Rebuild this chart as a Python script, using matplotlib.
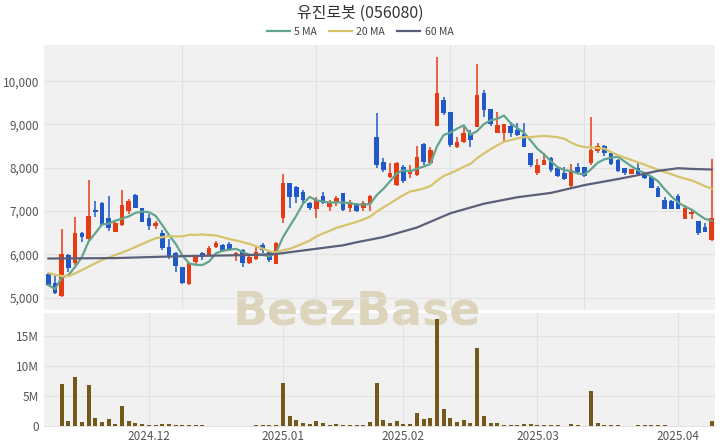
import numpy as np
import pandas as pd
import matplotlib
matplotlib.use("Agg")
import matplotlib.pyplot as plt
from matplotlib.patches import Rectangle
from matplotlib.lines import Line2D

plt.rcParams['font.family'] = ['Noto Sans CJK KR', 'DejaVu Sans']

title = "유진로봇 (056080)"
start_date = "2024-11-11"
end_date = "2025-04-08"
holidays = ["2024-12-25", "2024-12-31", "2025-01-01", "2025-01-27",
            "2025-01-28", "2025-01-29", "2025-01-30"]

opens = [5547, 5333, 5039, 5986, 5795, 6488, 6349, 7026, 7195, 6848,
         6525, 6680, 7010, 7372, 7065, 6833, 6663, 6502, 6178, 6025,
         5700, 5316, 5832, 6039, 5986, 6164, 6217, 6240, 5963, 6102,
         5795, 5887, 6217, 6063, 5778, 6833, 7641, 7564, 7449, 7195,
         7040, 7357, 7102, 7195, 7412, 7065, 7165, 7065, 7165, 8705,
         8127, 7795, 7603, 8025, 7857, 7834, 8550, 8118, 8966, 9564,
         9297, 8474, 8604, 8797, 8936, 9721, 9352, 8797, 8797, 8966,
         8874, 8781, 8335, 7873, 8065, 8220, 7989, 7873, 7580, 8012,
         8012, 8104, 8396, 8504, 8335, 8181, 7989, 7857, 7989, 7873,
         7796, 7527, 7257, 7234, 7349, 6811, 6934, 6779, 6640, 6333]
highs = [5578, 5501, 6580, 6009, 6857, 6525, 7719, 7234, 7218, 7349,
         6750, 7488, 7273, 7389, 7080, 6930, 6779, 6564, 6349, 6063,
         5700, 5795, 5986, 6063, 6194, 6317, 6230, 6294, 6063, 6118,
         5963, 6178, 6256, 6102, 6294, 7857, 7657, 7580, 7488, 7218,
         7333, 7449, 7257, 7350, 7420, 7250, 7190, 7241, 7370, 9274,
         8220, 8104, 8140, 8065, 8065, 8504, 8567, 8489, 10553, 9643,
         9300, 8705, 8935, 8874, 10408, 9798, 9352, 9297, 9012, 9066,
         9028, 9043, 8350, 8197, 8335, 8240, 8020, 8012, 8081, 8104,
         8030, 9181, 8567, 8530, 8380, 8200, 7989, 7980, 8119, 7873,
         7810, 7580, 7327, 7257, 7396, 7141, 7042, 6779, 6718, 8197]
lows = [5270, 5079, 5023, 5601, 5755, 6294, 6333, 6871, 6680, 6548,
        6510, 6663, 6933, 7065, 6740, 6560, 6587, 6102, 5887, 5601,
        5316, 5300, 5755, 5871, 5980, 6141, 6050, 6079, 5855, 5716,
        5778, 5871, 6040, 5818, 5772, 6733, 7065, 7181, 7181, 7026,
        6834, 7165, 7010, 7120, 7010, 6973, 6970, 7010, 7010, 7989,
        7911, 7758, 7580, 7657, 7758, 7810, 8065, 8065, 8966, 9220,
        8489, 8450, 8580, 8489, 8936, 9181, 8966, 8797, 8627, 8705,
        8740, 8489, 8030, 7834, 8065, 7911, 7780, 7719, 7527, 7890,
        7790, 8065, 8350, 8273, 8065, 7900, 7834, 7857, 7834, 7735,
        7527, 7333, 7042, 7042, 7042, 6811, 6811, 6448, 6525, 6300]
closes = [5293, 5102, 6009, 5679, 6488, 6409, 6894, 6972, 6680, 6603,
          6733, 7142, 7241, 7079, 6756, 6656, 6733, 6155, 5947, 5732,
          5330, 5795, 5986, 5933, 6140, 6271, 6086, 6102, 6040, 5795,
          5933, 6063, 6102, 5871, 6271, 7656, 7333, 7333, 7257, 7065,
          7257, 7181, 7218, 7296, 7026, 7218, 7010, 7195, 7349, 8065,
          7950, 7888, 8118, 7703, 7934, 8243, 8142, 8412, 9736, 9259,
          8527, 8589, 8797, 8643, 9682, 9336, 9012, 8989, 9012, 8812,
          8758, 8489, 8065, 8065, 8181, 7950, 7811, 7735, 7950, 7911,
          7811, 8420, 8504, 8335, 8088, 7934, 7873, 7966, 7857, 7758,
          7527, 7333, 7042, 7042, 7042, 7065, 6987, 6488, 6525, 6834]
volumes_m = [0.05, 0.05, 7.0, 0.9, 8.2, 0.7, 6.8, 1.3, 0.7, 1.1,
             0.3, 3.3, 0.9, 0.55, 0.33, 0.2, 0.17, 0.4, 0.28, 0.22,
             0.25, 0.15, 0.1, 0.1, 0.08, 0.08, 0.06, 0.05, 0.05, 0.05,
             0.05, 0.15, 0.15, 0.15, 0.15, 7.1, 1.6, 1.0, 0.55, 0.3,
             0.8, 0.55, 0.2, 0.3, 0.2, 0.15, 0.15, 0.15, 0.7, 7.2,
             1.0, 0.55, 0.8, 0.33, 0.33, 2.1, 1.1, 1.4, 17.8, 2.8,
             1.3, 0.65, 1.0, 0.55, 12.9, 1.7, 0.45, 0.45, 0.22, 0.17,
             0.22, 0.28, 0.28, 0.1, 0.17, 0.1, 0.1, 0.06, 0.33, 0.1,
             0.06, 5.8, 0.5, 0.22, 0.1, 0.1, 0.06, 0.06, 0.17, 0.1,
             0.17, 0.1, 0.1, 0.06, 0.06, 0.06, 0.06, 0.06, 0.06, 0.85]
ma20_head_idx = [0, 1, 2, 3, 4, 6, 8, 10, 12, 14, 16, 18]
ma20_head_val = [5570, 5530, 5500, 5500, 5560, 5716, 5871, 5986, 6102, 6240, 6372, 6425]
ma60_idx = [0, 10, 20, 30, 34, 40, 44, 46, 50, 55, 60, 65, 70, 75, 80, 85, 88, 91, 94, 96, 99]
ma60_val = [5905, 5915, 5960, 5985, 6010, 6130, 6210, 6280, 6400, 6620, 6950, 7170,
            7320, 7420, 7600, 7740, 7830, 7930, 7990, 7975, 7960]

price_ticks = [5000, 6000, 7000, 8000, 9000, 10000]
vol_ticks = [0, 5, 10, 15]
vol_tick_labels = ["0", "5M", "10M", "15M"]

# ---- derived ----
dates = pd.bdate_range(start_date, end_date)
dates = dates[~dates.isin(pd.to_datetime(holidays))]
n = len(closes)
x = np.arange(n)
o = np.array(opens, float); c = np.array(closes, float)
h = np.array(highs, float); l = np.array(lows, float)
ma5 = pd.Series(c).rolling(5, min_periods=1).mean().values
ma20_full = pd.Series(c).rolling(20).mean().values
ma20_x = list(ma20_head_idx) + list(range(19, n))
ma20_y = list(ma20_head_val) + list(ma20_full[19:])

month_pos = []
month_lab = []
dser = pd.Series(dates[:n])
for i in range(1, n):
    if dser[i].month != dser[i - 1].month:
        month_pos.append(i)
        month_lab.append(dser[i].strftime("%Y.%m"))

W, H = 720, 448
fig = plt.figure(figsize=(W / 100, H / 100), dpi=100)
fig.patch.set_facecolor("white")

L, R = 44, 715
main_top, main_bot = 45, 310
vol_top, vol_bot = 313, 427

def add_ax(top, bot):
    return fig.add_axes([L / W, 1 - bot / H, (R - L) / W, (bot - top) / H])

bg = "#f1f1f1"
for top, bot in [(main_top, main_bot), (vol_top, vol_bot)]:
    fig.patches.append(Rectangle((L / W, 1 - bot / H), (R - L) / W, (bot - top) / H,
                                 transform=fig.transFigure, facecolor=bg,
                                 edgecolor="none", zorder=-3))

fig.text(357 / W, 1 - 312 / H, "BeezBase", ha="center", va="center",
         fontsize=33, fontweight="bold", color="#dcd5bb", zorder=-2,
         family=["DejaVu Sans"])

ax = add_ax(main_top, main_bot)
axv = add_ax(vol_top, vol_bot)
for a in (ax, axv):
    a.set_facecolor("none")
    for s in a.spines.values():
        s.set_visible(False)
    a.tick_params(length=0, labelsize=8.5, labelcolor="#555555")
    a.set_xlim(-0.65, n - 0.5)

up_col = "#e63c14"
dn_col = "#2059c8"
cols = [up_col if cc >= oo else dn_col for oo, cc in zip(o, c)]

ax.vlines(x, l, h, colors=cols, linewidth=1.1, zorder=3)
body_b = np.minimum(o, c)
body_h = np.maximum(np.abs(c - o), 25)
ax.bar(x, body_h, bottom=body_b, width=0.7, color=cols, zorder=4, linewidth=0)

ax.plot(x, ma5, color="#62a48e", lw=1.6, zorder=5)
ax.plot(ma20_x, ma20_y, color="#d6c46c", lw=1.6, zorder=5)
ax.plot(ma60_idx, ma60_val, color="#5b6078", lw=1.6, zorder=5)

ax.set_ylim(4716, 10836)
ax.set_yticks(price_ticks)
ax.set_yticklabels([f"{v:,}" for v in price_ticks])
ax.set_xticks([20, 40, 60, 80])
ax.set_xticklabels([])
ax.grid(True, color="#e2e2e2", lw=0.8, zorder=0)
ax.set_axisbelow(True)

axv.bar(x, volumes_m, width=0.6, color="#735a1a", zorder=3, linewidth=0)
axv.set_ylim(-0.15, 18.8)
axv.set_yticks(vol_ticks)
axv.set_yticklabels(vol_tick_labels)
axv.set_xticks(month_pos)
axv.set_xticklabels(month_lab)
axv.tick_params(axis="x", pad=2)
axv.grid(True, color="#e2e2e2", lw=0.8, zorder=0)
axv.set_axisbelow(True)

fig.text(0.5, 1 - 13 / H, title, ha="center", va="center", fontsize=11.5,
         color="#333333")
handles = [Line2D([], [], color="#62a48e", lw=1.6),
           Line2D([], [], color="#d6c46c", lw=1.6),
           Line2D([], [], color="#5b6078", lw=1.6)]
fig.legend(handles, ["5 MA", "20 MA", "60 MA"], loc="center",
           bbox_to_anchor=(0.5, 1 - 32 / H), ncol=3, frameon=False,
           fontsize=7.5, handlelength=2.2, handletextpad=0.4, columnspacing=1.2,
           labelcolor="#444444")

fig.savefig("out.png", dpi=100)
